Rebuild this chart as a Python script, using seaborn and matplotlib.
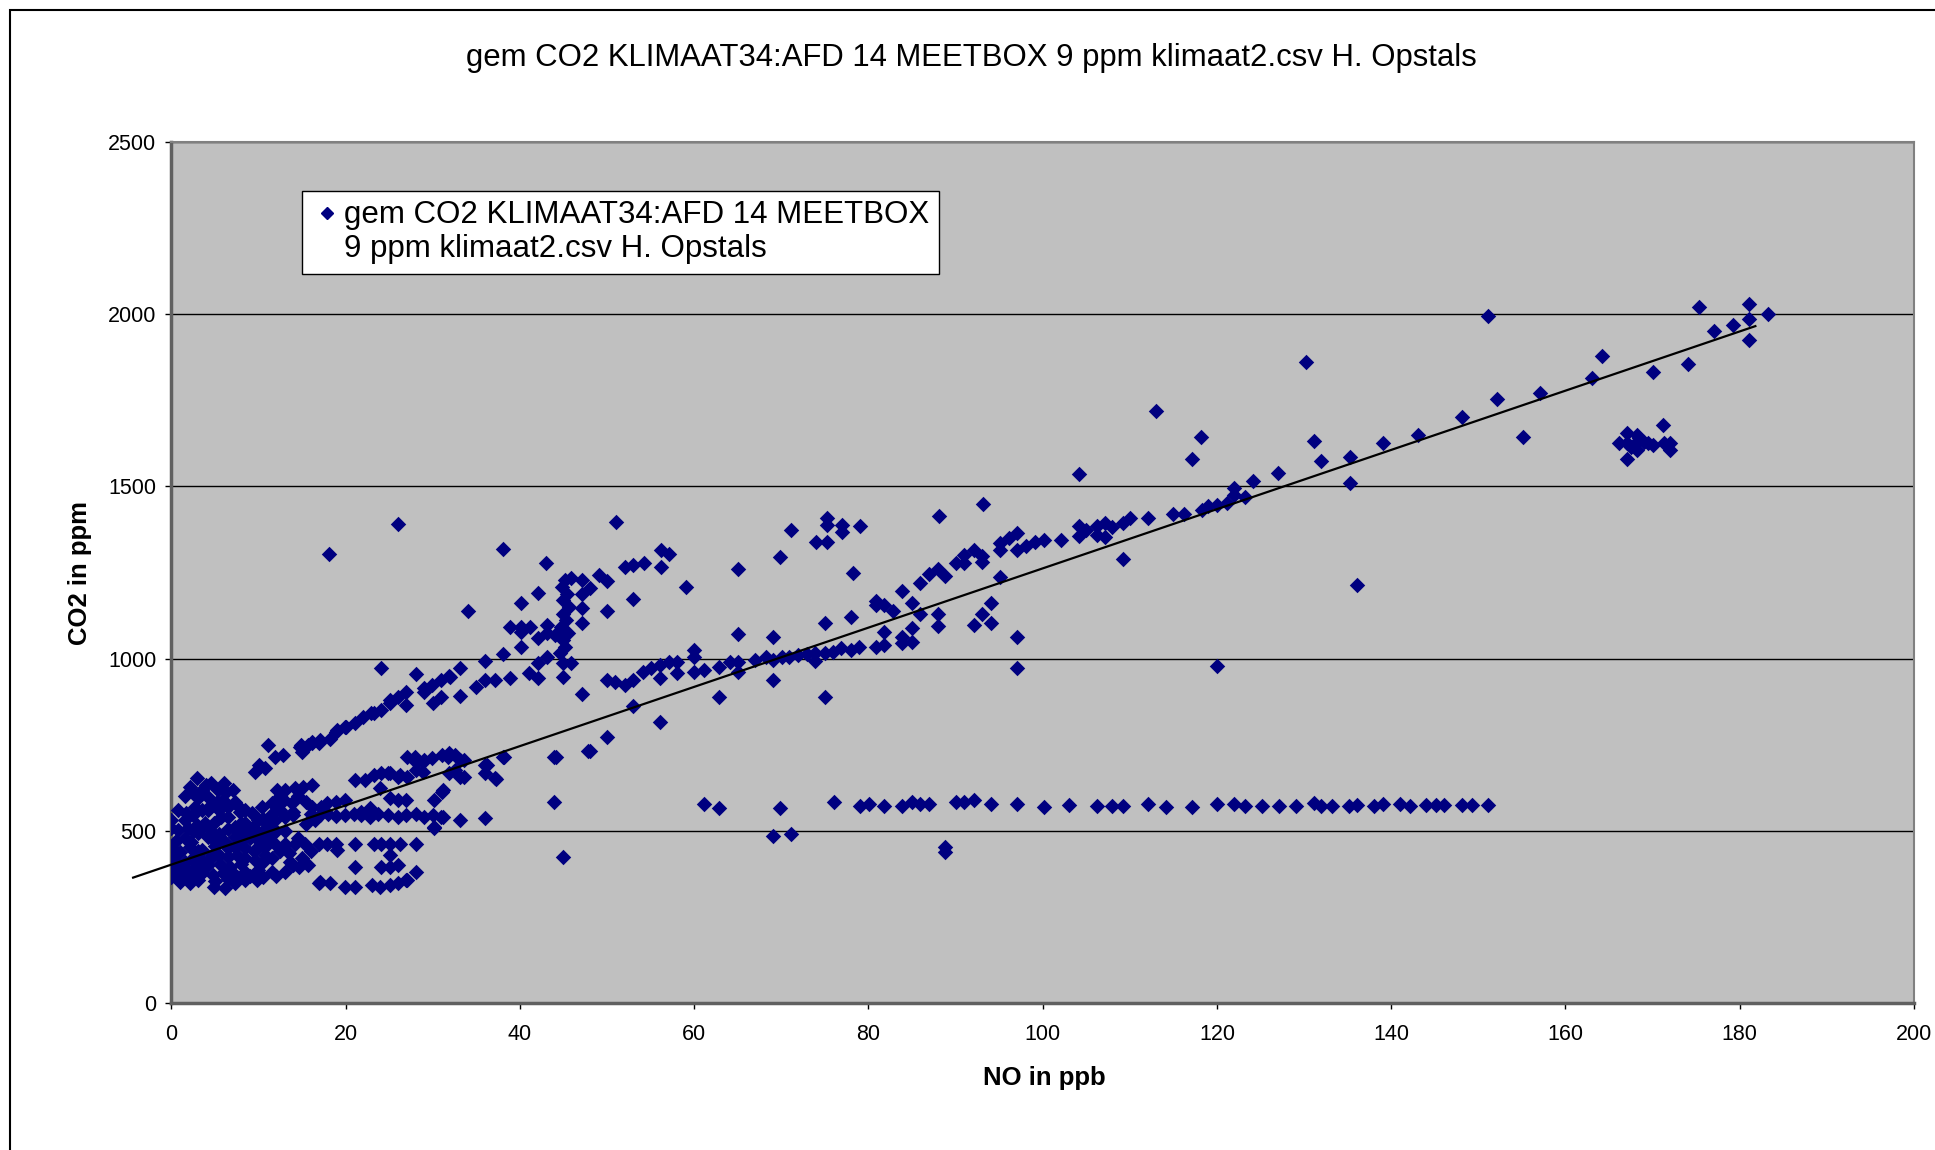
import numpy as np
import pandas as pd
import matplotlib
matplotlib.use('Agg')
import matplotlib.pyplot as plt
from matplotlib.lines import Line2D
import seaborn as sns

# Waarden: (NO in ppb, CO2 in ppm)
cluster_pts = [
    (11.1, 749), (12.8, 720), (11.9, 715), (10.0, 691), (10.7, 682), (9.6, 672), (15.0, 730), (15.7, 749),
    (16.9, 754), (2.9, 652), (2.1, 628), (4.0, 633), (5.4, 619), (6.3, 614), (7.1, 619), (7.3, 585),
    (5.2, 585), (0.8, 560), (0.0, 531), (1.7, 551), (2.7, 570), (3.8, 522), (4.9, 522), (1.9, 507),
    (3.1, 493), (4.2, 483), (6.5, 541), (8.4, 522), (7.9, 556), (9.2, 551), (10.4, 570), (11.5, 580),
    (12.1, 619), (13.0, 619), (14.2, 624), (15.1, 628), (16.1, 633), (12.9, 590), (11.9, 585), (13.8, 580),
    (16.1, 570), (17.2, 570), (11.9, 531), (13.0, 541), (13.9, 556), (9.4, 512), (7.3, 483), (8.4, 493),
    (6.1, 468), (7.3, 454), (8.4, 449), (9.6, 444), (10.7, 454), (0.0, 454), (1.0, 439), (0.0, 425),
    (2.1, 454), (3.5, 444), (4.6, 430), (1.6, 410), (2.9, 405), (4.2, 401), (5.6, 405), (6.7, 396),
    (8.0, 405), (9.6, 415), (10.7, 430), (11.9, 463), (13.0, 463), (14.2, 463), (15.3, 463), (16.9, 463),
    (13.6, 410), (14.6, 396), (15.7, 401), (16.9, 348), (0.0, 367), (1.0, 352), (2.1, 348), (3.1, 357),
    (4.9, 338), (6.1, 333), (7.3, 348), (8.4, 357), (9.8, 357), (0.0, 396), (1.0, 381), (2.3, 381),
    (3.5, 377), (4.8, 372), (5.9, 377), (7.1, 377), (8.4, 381), (9.9, 386), (11.5, 381), (0.8, 502),
    (0.0, 507), (3.1, 594), (4.2, 599), (5.9, 590), (4.2, 561), (5.7, 541), (2.9, 517), (2.3, 469),
    (4.9, 473), (9.9, 531), (8.0, 522), (11.1, 517), (7.3, 512),
]
cluster_fill_pts = [
    (0.5, 470), (1.5, 480), (2.5, 500), (3.5, 510), (4.5, 500), (5.5, 490), (6.5, 505), (7.5, 500),
    (8.5, 510), (9.5, 490), (10.5, 500), (11.5, 490), (0.5, 410), (1.5, 395), (2.5, 420), (3.5, 415),
    (4.5, 420), (5.5, 430), (6.5, 425), (7.5, 430), (8.5, 420), (9.5, 440), (10.5, 410), (11.5, 420),
    (12.5, 440), (1.5, 530), (2.5, 545), (3.5, 560), (4.5, 575), (5.5, 560), (6.5, 570), (7.5, 575),
    (8.5, 560), (9.5, 545), (10.5, 535), (11.5, 550), (12.5, 560), (1.5, 600), (2.5, 610), (3.5, 620),
    (6.0, 640), (4.5, 640), (0.5, 380), (1.5, 365), (2.5, 370), (5.0, 355), (6.5, 360), (7.5, 365),
    (9.0, 370), (10.5, 365), (12.0, 370), (13.0, 380), (14.0, 400), (15.0, 420), (13.5, 435), (16.0, 440),
    (14.5, 480), (13.0, 500), (15.5, 520), (16.5, 530), (14.0, 545), (16.0, 550), (12.5, 600), (14.5, 600),
    (15.5, 585), (3.0, 440), (5.0, 455), (6.5, 450), (8.0, 470), (9.0, 480), (10.0, 470), (11.0, 480),
    (12.0, 500),
]
upper_diag_pts = [
    (14.9, 749), (16.1, 759), (17.1, 763), (18.2, 768), (19.0, 793), (20.0, 802), (21.1, 812), (22.0, 831),
    (23.2, 841), (24.1, 851), (25.1, 880), (26.0, 889), (26.9, 904), (26.9, 865), (28.1, 955), (29.0, 914),
    (29.0, 904), (29.9, 923), (30.9, 938), (31.9, 950), (30.0, 870), (30.9, 889), (33.1, 891), (35.0, 918),
    (33.1, 972), (24.0, 972), (14.8, 744), (16.1, 754), (18.9, 788), (19.9, 802), (22.9, 841), (25.1, 870),
    (32.0, 947), (36.0, 938), (37.1, 938), (36.0, 994), (38.1, 1013), (38.9, 943), (41.0, 957), (42.1, 943),
    (42.1, 986), (43.1, 1006), (45.0, 986), (45.0, 948), (40.1, 1035), (38.9, 1093), (40.1, 1093), (41.1, 1093),
    (40.1, 1078), (43.1, 1098), (42.1, 1059), (43.1, 1074), (44.0, 1069), (34.0, 1138), (40.1, 1162), (42.1, 1191),
    (45.2, 1227), (44.8, 1208), (45.4, 1189), (45.0, 1170), (45.6, 1150), (44.9, 1131), (45.3, 1112), (44.7, 1093),
    (45.5, 1074), (44.9, 1054), (45.2, 1035), (44.6, 1016), (45.9, 1233), (47.1, 1228), (47.1, 1189), (48.0, 1204),
    (47.1, 1146), (47.1, 1104), (45.9, 986), (47.1, 897), (49.1, 1243), (50.0, 1224), (50.0, 1138), (52.1, 1267),
    (53.0, 1272), (54.2, 1277), (56.2, 1314), (57.1, 1304), (56.2, 1265), (53.0, 1173), (59.1, 1209),
]
mid_band_pts = [
    (27.0, 715), (28.1, 701), (29.0, 706), (28.1, 677), (31.0, 720), (31.9, 725), (33.1, 706), (33.1, 657),
    (31.9, 667), (31.0, 614), (30.1, 590), (21.1, 648), (22.2, 648), (23.2, 662), (24.1, 667), (25.1, 667),
    (26.2, 662), (23.9, 623), (25.1, 594), (26.0, 590), (26.9, 590), (17.8, 580), (18.9, 585), (19.9, 590),
    (17.0, 545), (18.0, 548), (18.9, 543), (19.9, 545), (20.9, 550), (21.8, 545), (22.8, 541), (23.7, 548),
    (24.9, 545), (26.0, 541), (26.9, 545), (28.1, 548), (29.0, 541), (30.0, 545), (30.9, 541), (22.8, 565),
    (21.8, 556), (33.1, 530), (30.1, 507), (17.8, 463), (18.9, 463), (21.1, 463), (23.2, 463), (24.1, 463),
    (25.1, 463), (26.2, 463), (28.1, 463), (19.0, 444), (25.1, 430), (21.1, 396), (24.0, 396), (25.1, 396),
    (26.0, 401), (28.1, 381), (17.0, 352), (18.2, 348), (19.9, 338), (21.1, 338), (23.0, 343), (23.9, 338),
    (25.1, 343), (26.0, 348), (26.9, 357), (27.0, 357), (36.0, 691), (36.0, 667), (37.1, 652), (38.1, 715),
    (43.9, 715), (36.0, 536), (29.9, 711), (28.9, 701), (28.9, 672), (27.9, 715), (27.0, 657), (26.0, 657),
    (24.9, 667), (32.5, 721), (31.7, 715), (32.5, 678), (33.6, 706), (33.6, 657), (36.2, 691), (37.3, 650),
    (38.2, 715), (31.2, 619), (31.2, 541), (30.1, 512),
]
second_diag_pts = [
    (50.0, 938), (50.9, 933), (52.1, 923), (53.0, 938), (54.1, 962), (55.1, 972), (56.1, 981), (57.1, 990),
    (58.0, 990), (58.0, 957), (60.0, 1025), (60.0, 1006), (60.0, 962), (61.1, 967), (62.9, 977), (64.1, 990),
    (65.0, 990), (65.0, 962), (67.0, 996), (68.2, 1006), (69.1, 996), (70.1, 1006), (70.9, 1006), (71.9, 1011),
    (72.9, 1014), (73.9, 994), (73.9, 1016), (75.0, 1016), (75.9, 1019), (76.9, 1030), (78.0, 1025), (78.9, 1035),
    (80.9, 1035), (81.8, 1041), (81.8, 1078), (83.8, 1045), (83.8, 1064), (85.0, 1049), (85.0, 1088), (80.9, 1166),
    (80.9, 1156), (81.8, 1156), (82.8, 1138), (83.8, 1196), (85.0, 1162), (85.9, 1219), (85.9, 1130), (87.0, 1246),
    (88.0, 1259), (88.8, 1240), (88.0, 1129), (88.0, 1094), (90.0, 1277), (91.0, 1301), (91.0, 1277), (92.1, 1316),
    (93.0, 1298), (93.0, 1282), (92.1, 1097), (93.0, 1130), (94.1, 1162), (94.1, 1104), (95.1, 1236), (95.1, 1336),
    (96.1, 1350), (95.1, 1316), (97.1, 1364), (97.1, 1316), (98.1, 1326), (99.1, 1340), (100.1, 1345), (102.1, 1345),
    (104.2, 1386), (104.2, 1357), (105.0, 1374), (106.2, 1360), (106.2, 1386), (107.1, 1395), (107.1, 1353), (108.0, 1381),
    (109.2, 1395), (110.0, 1409), (112.1, 1409), (115.0, 1420), (116.2, 1420), (118.3, 1431), (119.0, 1443), (120.0, 1447),
    (121.1, 1453), (122.0, 1475), (122.0, 1495), (123.2, 1470), (124.1, 1517), (127.0, 1540), (131.1, 1632), (132.0, 1574),
    (135.3, 1586), (135.3, 1511), (139.1, 1625), (143.1, 1649), (148.1, 1701), (152.2, 1753), (155.1, 1643), (157.1, 1771),
    (163.1, 1815), (164.2, 1879), (170.1, 1832), (174.1, 1856), (175.3, 2021), (177.1, 1952), (179.2, 1969), (181.1, 2030),
    (181.1, 1986), (181.1, 1925), (183.2, 2000),
]
cluster_165_pts = [
    (167.1, 1654), (168.2, 1649), (166.1, 1625), (167.1, 1625), (168.2, 1630), (169.0, 1630), (170.1, 1620), (171.3, 1625),
    (172.0, 1625), (172.0, 1606), (168.2, 1606), (167.1, 1579), (171.2, 1679), (167.5, 1615), (169.5, 1625), (168.5, 1640),
]
band_575_pts = [
    (61.1, 578), (62.9, 565), (69.9, 565), (76.0, 583), (79.0, 573), (80.1, 578), (81.8, 573), (83.8, 573),
    (85.0, 583), (85.9, 578), (87.0, 578), (90.0, 585), (91.0, 583), (92.1, 590), (94.1, 578), (97.1, 578),
    (100.1, 570), (103.0, 575), (106.2, 572), (108.0, 572), (109.2, 572), (112.1, 578), (114.1, 570), (117.1, 570),
    (120.0, 578), (122.0, 578), (123.2, 572), (125.2, 572), (127.1, 572), (129.1, 572), (131.1, 580), (132.0, 572),
    (133.2, 572), (135.2, 572), (136.1, 575), (138.0, 572), (139.1, 578), (141.0, 578), (142.2, 572), (144.0, 575),
    (145.2, 575), (146.1, 575), (148.1, 575), (149.3, 575), (151.1, 575), (69.1, 485), (71.1, 491), (88.8, 454),
    (88.8, 438),
]
outlier_pts = [
    (18.1, 1305), (26.0, 1391), (38.0, 1317), (43.0, 1277), (51.0, 1397), (65.0, 1259), (69.9, 1294), (71.1, 1374),
    (74.0, 1340), (75.2, 1340), (75.2, 1407), (75.2, 1388), (77.0, 1388), (77.0, 1369), (79.0, 1385), (78.2, 1248),
    (88.1, 1414), (93.1, 1449), (113.0, 1718), (118.2, 1643), (117.1, 1580), (130.2, 1861), (151.1, 1994), (104.2, 1535),
    (97.1, 1064), (97.1, 972), (75.0, 1104), (78.0, 1122), (75.0, 888), (69.1, 1064), (69.1, 938), (65.0, 1071),
    (62.9, 888), (56.1, 943), (56.1, 817), (53.0, 862), (50.0, 772), (48.0, 733), (44.1, 715), (47.8, 732),
    (43.9, 583), (45.0, 423), (109.2, 1289), (120.0, 979), (136.1, 1213),
]

trend_slope = 8.60
trend_intercept = 402
trend_x = [-4.4, 181.8]

titel = 'gem CO2 KLIMAAT34:AFD 14 MEETBOX 9 ppm klimaat2.csv H. Opstals'
legend_lines = ['gem CO2 KLIMAAT34:AFD 14 MEETBOX', '9 ppm klimaat2.csv H. Opstals']
marker_kleur = '#000080'

groups = [cluster_pts, cluster_fill_pts, upper_diag_pts, mid_band_pts,
          second_diag_pts, cluster_165_pts, band_575_pts, outlier_pts]
data = pd.DataFrame([p for g in groups for p in g], columns=['NO', 'CO2'])

plt.rcParams['font.family'] = ['Liberation Sans', 'DejaVu Sans']

fig = plt.figure(figsize=(19.35, 11.5), dpi=100)
ax = fig.add_axes([0.0886, 0.1278, 0.9005, 0.7487])
ax.set_facecolor('#C0C0C0')

sns.scatterplot(data=data, x='NO', y='CO2', marker='D', color=marker_kleur, s=62,
                linewidth=0, ax=ax, legend=False, zorder=3)

tx = np.array(trend_x)
ax.plot(tx, trend_intercept + trend_slope * tx, color='black', lw=1.6, zorder=4, clip_on=False)

ax.set_xlim(0, 200)
ax.set_ylim(0, 2500)
ax.set_xticks(range(0, 201, 20))
ax.set_yticks(range(0, 2501, 500))
ax.yaxis.grid(True, color='black', lw=1)
ax.xaxis.grid(False)
ax.set_axisbelow(True)
ax.tick_params(direction='out', length=4, width=1, labelsize=15.5, color='black')
ax.tick_params(axis='x', pad=11)
ax.tick_params(axis='y', pad=7)
ax.set_xlabel('')
ax.set_ylabel('')
for side in ['left', 'bottom']:
    ax.spines[side].set_color('#606060')
    ax.spines[side].set_linewidth(2.5)
for side in ['top', 'right']:
    ax.spines[side].set_color('#808080')
    ax.spines[side].set_linewidth(1.5)

# legenda: marker bij de eerste regel, tweede regel zonder marker
handles = [Line2D([], [], marker='D', color=marker_kleur, linestyle='none', markersize=6),
           Line2D([], [], marker='', linestyle='none')]
leg = ax.legend(handles, legend_lines, loc='upper left', bbox_to_anchor=(0.0749, 0.943),
                borderaxespad=0, fontsize=22.5, frameon=True, fancybox=False,
                handletextpad=0.05, borderpad=0.3, labelspacing=0.12, handlelength=1.0)
leg.get_frame().set_edgecolor('black')
leg.get_frame().set_facecolor('white')
leg.get_frame().set_linewidth(1)
leg.get_frame().set_alpha(1)

fig.text(971 / 1935, 1 - 58 / 1150, titel, ha='center', va='center', fontsize=22.4)
fig.text(1044 / 1935, 1 - 1078 / 1150, 'NO in ppb', ha='center', va='center',
         fontsize=18.5, fontweight='bold')
fig.text(80 / 1935, 1 - 573 / 1150, 'CO2 in ppm', ha='center', va='center',
         fontsize=18.5, fontweight='bold', rotation=90)

# rand om het hele grafiekgebied
fig.patches.append(plt.Rectangle((10 / 1935, -0.05), 1.1, 1.05 - 10 / 1150,
                                 transform=fig.transFigure, fill=False,
                                 edgecolor='black', lw=1.5))

fig.savefig('out.png', dpi=100)
